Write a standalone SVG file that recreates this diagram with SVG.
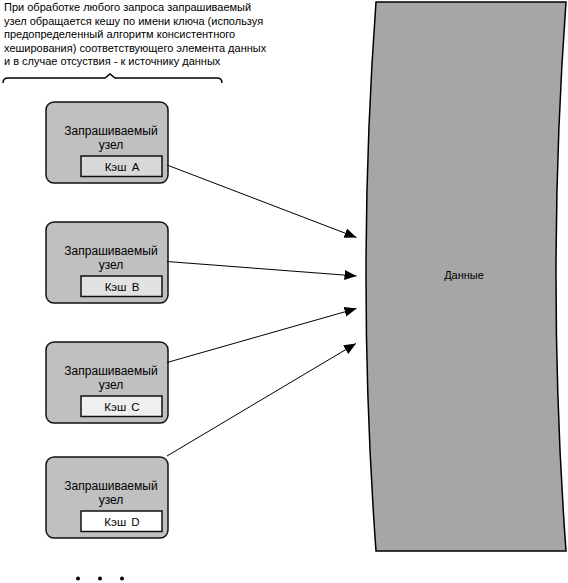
<svg xmlns="http://www.w3.org/2000/svg" width="568" height="583" viewBox="0 0 568 583">
<style>
text{font-family:"Liberation Sans",Arial,sans-serif;font-size:11px;fill:#000}
.node{fill:#c0c0c0;stroke:#111;stroke-width:1.5}
.cache{stroke:#111;stroke-width:1.5}
.c{text-anchor:middle}
.n{font-size:12px}
.k{font-size:11.5px;word-spacing:2px}
.conn{stroke:#000;stroke-width:1;fill:none;marker-end:url(#ah)}
</style>
<defs>
<marker id="ah" viewBox="0 0 12 10" refX="12" refY="5" markerWidth="12" markerHeight="10" markerUnits="userSpaceOnUse" orient="auto">
<path d="M0,0 L12,5 L0,10 Z" fill="#000"/>
</marker>
</defs>
<rect width="568" height="583" fill="#fff"/>
<g id="note">
<text x="4" y="11">При обработке любого запроса запрашиваемый</text>
<text x="4" y="24.5">узел обращается кешу по имени ключа (используя</text>
<text x="4" y="38">предопределенный алгоритм консистентного</text>
<text x="4" y="51.5">хеширования) соответствующего элемента данных</text>
<text x="4" y="65">и в случае отсуствия - к источнику данных</text>
<path d="M3,83 Q3,78 8,78 L105,78 L110,74 L115,78 L217,78 Q222,78 222,83" fill="none" stroke="#000" stroke-width="1.5"/>
</g>
<g id="data">
<path d="M376,2 L566,2 Q546,276 566,551 L376,551 Q356,276 376,2 Z" fill="#a6a6a6" stroke="#000" stroke-width="1.5"/>
<text class="c" x="464" y="279">Данные</text>
</g>
<g id="nodeA">
<rect class="node" x="46" y="102" width="122" height="81" rx="8"/>
<text class="c n" x="111" y="135">Запрашиваемый</text>
<text class="c n" x="111" y="149">узел</text>
<rect class="cache" x="81" y="156" width="81" height="20.5" fill="#d8d8d8"/>
<text class="c k" x="122" y="171">Кэш A</text>
</g>
<g id="nodeB">
<rect class="node" x="46" y="222" width="122" height="81" rx="8"/>
<text class="c n" x="111" y="255">Запрашиваемый</text>
<text class="c n" x="111" y="269">узел</text>
<rect class="cache" x="81" y="276" width="81" height="20.5" fill="#e2e2e2"/>
<text class="c k" x="122" y="291">Кэш B</text>
</g>
<g id="nodeC">
<rect class="node" x="46" y="342" width="122" height="81" rx="8"/>
<text class="c n" x="111" y="375">Запрашиваемый</text>
<text class="c n" x="111" y="389">узел</text>
<rect class="cache" x="81" y="396" width="81" height="20.5" fill="#efefef"/>
<text class="c k" x="122" y="411">Кэш C</text>
</g>
<g id="nodeD">
<rect class="node" x="46" y="457" width="122" height="81" rx="8"/>
<text class="c n" x="111" y="490">Запрашиваемый</text>
<text class="c n" x="111" y="504">узел</text>
<rect class="cache" x="81" y="511" width="81" height="20.5" fill="#fff"/>
<text class="c k" x="122" y="526">Кэш D</text>
</g>
<g id="connectors">
<line class="conn" x1="167" y1="165" x2="356.5" y2="237.5"/>
<line class="conn" x1="167" y1="261.5" x2="356.5" y2="276"/>
<line class="conn" x1="167" y1="362.5" x2="356.5" y2="308.5"/>
<line class="conn" x1="167" y1="456" x2="356" y2="343.5"/>
</g>
<g id="dots" fill="#000">
<circle cx="78" cy="578.5" r="2"/>
<circle cx="100" cy="578.5" r="2"/>
<circle cx="122" cy="578.5" r="2"/>
</g>
</svg>
